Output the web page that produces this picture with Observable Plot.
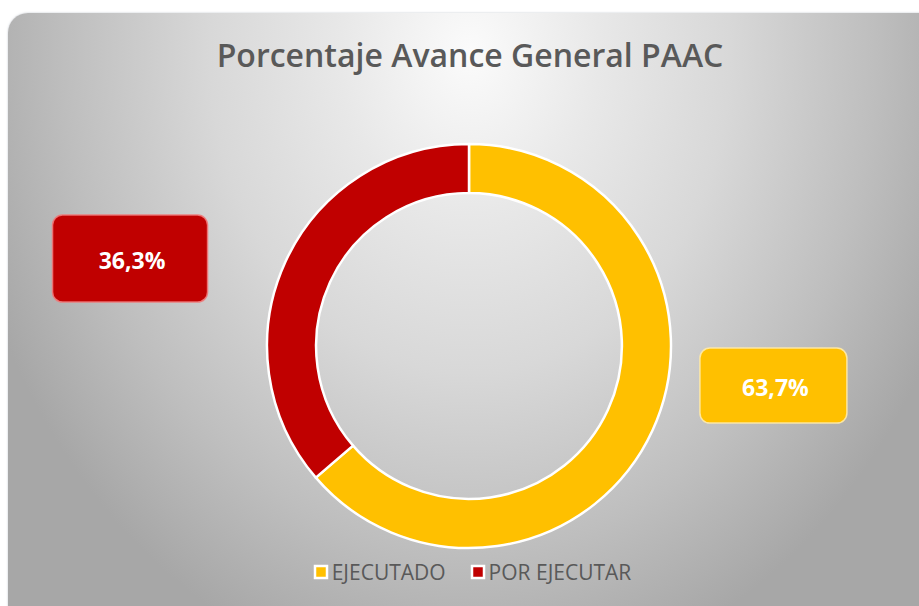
<!DOCTYPE html>
<html>
<head>
<meta charset="utf-8">
<script src="https://cdn.jsdelivr.net/npm/d3@7"></script>
<script src="https://cdn.jsdelivr.net/npm/@observablehq/plot@0.6"></script>
<style>
  html, body { margin: 0; padding: 0; background: #fff; width: 919px; height: 606px; overflow: hidden; position: relative; }
  #card {
    position: absolute; left: 8px; top: 13px; width: 940px; height: 620px; border-radius: 20px;
    background: radial-gradient(ellipse 520px 640px at 462px 40px, #fbfbfb 0%, #e8e8e8 25%, #d8d8d8 50%, #bebebe 78%, #a7a7a7 100%);
    box-shadow: 0 0 2px rgba(120,130,150,0.5);
  }
  #title {
    position: absolute; left: 0; top: 35px; width: 940px; text-align: center;
    font: 600 32px "Open Sans", sans-serif; line-height: 40px; color: #595959;
  }
  #chart { position: absolute; left: 0; top: 0; }
  #legend { position: absolute; left: 0; top: 555px; width: 946px; }
  #legend > div { justify-content: center !important; font: 21px "Open Sans", sans-serif !important; color: #595959 !important; margin: 0 !important; min-height: 33px; }
  #legend span { margin-right: 26px !important; }
  #legend span:last-child { margin-right: 0 !important; }
  #legend svg { margin-right: 5px !important; overflow: visible !important; }
  #legend svg rect { stroke: #fff; stroke-width: 2.5px; }
</style>
</head>
<body>
<div id="card"></div>
<div id="title"></div>
<div id="chart"></div>
<div id="legend"></div>
<script>
// ---- data ----
const categories = ["EJECUTADO", "POR EJECUTAR"];
const values = [63.7, 36.3];
const labels = ["63,7%", "36,3%"];
const colors = ["#FFC000", "#C00000"];
const titleText = "Porcentaje Avance General PAAC";

// ---- layout (not data) ----
const innerRatio = 0.757;
const labelLayout = {
  "EJECUTADO":    { dx: 1.507, dy: -0.196, w: 147, h: 75, stroke: "rgba(255,235,170,0.9)" },
  "POR EJECUTAR": { dx: -1.678, dy: 0.433, w: 155, h: 87, stroke: "rgba(240,120,120,0.9)" }
};

const data = categories.map((c, i) => ({category: c, value: values[i], label: labels[i]}));

document.getElementById("title").textContent = titleText;

function donut(index, scales) {
  const {x, y, color} = scales;
  const cx = x(0), cy = y(0), R = x(1) - x(0);
  const g = d3.create("svg:g");
  const arcs = d3.pie().sort(null).value(d => d.value)(data);
  const arc = d3.arc().innerRadius(R * innerRatio).outerRadius(R);
  g.append("g")
    .attr("transform", `translate(${cx},${cy})`)
    .selectAll("path").data(arcs).join("path")
    .attr("d", arc)
    .attr("fill", d => color(d.data.category))
    .attr("stroke", "#fff")
    .attr("stroke-width", 2.5)
    .attr("stroke-linejoin", "round");
  const lab = g.append("g").selectAll("g").data(data).join("g")
    .attr("transform", d => {
      const L = labelLayout[d.category];
      return `translate(${x(L.dx)},${y(L.dy)})`;
    });
  lab.append("rect")
    .attr("x", d => -labelLayout[d.category].w / 2)
    .attr("y", d => -labelLayout[d.category].h / 2)
    .attr("width", d => labelLayout[d.category].w)
    .attr("height", d => labelLayout[d.category].h)
    .attr("rx", 10).attr("ry", 10)
    .attr("fill", d => color(d.category))
    .attr("stroke", d => labelLayout[d.category].stroke)
    .attr("stroke-width", 1.5);
  lab.append("text")
    .attr("text-anchor", "middle")
    .attr("dy", "0.36em")
    .attr("x", 2)
    .attr("y", 2)
    .attr("fill", "#fff")
    .attr("font-family", "'Open Sans', sans-serif")
    .attr("font-weight", 700)
    .attr("font-size", 23)
    .text(d => d.label);
  return g.node();
}

const plot = Plot.plot({
  width: 919,
  height: 560,
  marginLeft: 267,
  marginRight: 248,
  marginTop: 144,
  marginBottom: 12,
  x: {domain: [-1, 1], axis: null},
  y: {domain: [-1, 1], axis: null},
  color: {domain: categories, range: colors},
  style: {background: "transparent", overflow: "visible"},
  marks: [
    Plot.dot(data, {x: () => 0, y: () => 0, fill: "category", r: 0}),
    donut
  ]
});
document.getElementById("chart").append(plot);

const leg = plot.legend("color", {swatchSize: 12, swatchWidth: 12, swatchHeight: 12});
document.getElementById("legend").append(leg);
</script>
</body>
</html>
